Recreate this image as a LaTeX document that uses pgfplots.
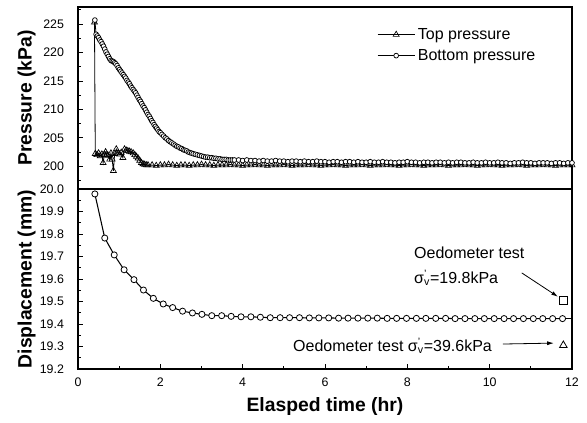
\documentclass[border=0pt]{standalone}
\usepackage{fontspec}
\setmainfont{Liberation Sans}
\usepackage{pgfplots}
\pgfplotsset{compat=1.18}
\usetikzlibrary{arrows.meta}

\pgfplotsset{
  panel/.style={
    scale only axis, width=370.5pt, xmin=0, xmax=12,
    axis line style={line width=0.9pt},
    tick align=inside, tick style={line width=0.6pt, black},
    major tick length=4pt, minor tick length=2.5pt,
    ytick pos=left,
    /pgf/number format/assume math mode=true,
    tick label style={font=\fontsize{9.3}{10}\selectfont},
    yticklabel shift=7pt,
    every axis y label/.style={at={(axis description cs:-0.1316,0.5)}, rotate=90, anchor=north,
      font=\bfseries\fontsize{14.5}{17}\selectfont},
  }
}

\begin{document}
\begin{tikzpicture}
\useasboundingbox (-58.5pt,5.25pt) rectangle (381.75pt,-312pt);

% upper panel: pressures
\begin{axis}[panel, name=upper, at={(0,0)}, anchor=north west,
  height=136.5pt, ymin=196, ymax=228,
  ytick={200,205,...,225}, minor ytick={197.5,202.5,...,227.5},
  xtick=\empty,
  ylabel={Pressure (kPa)},
  legend cell align=left,
  legend style={draw=none, fill=none, at={(0.605,0.9)}, anchor=north west,
    font=\fontsize{12}{14}\selectfont, row sep=2pt, inner sep=0pt},
  legend image code/.code={\draw[mark repeat=2,mark phase=2,#1] plot coordinates {(0pt,0pt)(14pt,0pt)(28pt,0pt)};},
]
\addplot[black, line width=0.6pt, mark=triangle, mark size=2.6pt, mark options={solid, fill=white, line width=0.5pt}] coordinates {
(0.40,225.3)(0.42,202.2)(0.46,202.0)(0.50,202.3)(0.54,201.8)(0.58,202.1)(0.61,200.6)(0.64,202.0)
(0.67,202.5)(0.70,202.0)(0.73,201.9)(0.77,201.2)(0.80,202.3)(0.83,201.2)(0.86,199.2)(0.89,202.2)
(0.93,203.0)(0.97,202.3)(1.01,202.1)(1.05,202.4)(1.09,201.5)(1.13,203.0)(1.17,202.8)(1.21,202.7)
(1.25,202.6)(1.29,202.5)(1.34,202.3)(1.38,202.0)(1.42,201.7)(1.46,201.4)(1.50,201.0)(1.54,200.6)
(1.58,200.4)(1.62,200.3)(1.66,200.2)
(1.7,200.2)(1.8,200.2)(1.9,200.1)(2.0,200.2)(2.1,200.2)(2.2,200.3)(2.3,200.2)(2.4,200.1)(2.5,200.2)
(2.6,200.2)(2.7,200.1)(2.8,200.2)(2.9,200.2)(3.0,200.3)(3.1,200.2)(3.2,200.2)(3.3,200.1)(3.4,200.2)
(3.5,200.2)(3.6,200.2)(3.7,200.3)(3.8,200.2)(3.9,200.2)(4.0,200.1)(4.1,200.2)(4.2,200.2)(4.3,200.3)
(4.4,200.2)(4.5,200.2)(4.6,200.1)(4.7,200.2)(4.8,200.2)(4.9,200.2)(5.0,200.3)(5.1,200.2)(5.2,200.1)
(5.3,200.2)(5.4,200.2)(5.5,200.2)(5.6,200.3)(5.7,200.2)(5.8,200.2)(5.9,200.1)(6.0,200.2)(6.1,200.2)
(6.2,200.3)(6.3,200.2)(6.4,200.2)(6.5,200.1)(6.6,200.2)(6.7,200.2)(6.8,200.2)(6.9,200.3)(7.0,200.2)
(7.1,200.1)(7.2,200.2)(7.3,200.2)(7.4,200.2)(7.5,200.3)(7.6,200.2)(7.7,200.2)(7.8,200.1)(7.9,200.2)
(8.0,200.2)(8.1,200.3)(8.2,200.2)(8.3,200.2)(8.4,200.1)(8.5,200.2)(8.6,200.2)(8.7,200.2)(8.8,200.3)
(8.9,200.2)(9.0,200.1)(9.1,200.2)(9.2,200.2)(9.3,200.2)(9.4,200.3)(9.5,200.2)(9.6,200.2)(9.7,200.1)
(9.8,200.2)(9.9,200.2)(10.0,200.3)(10.1,200.2)(10.2,200.2)(10.3,200.1)(10.4,200.2)(10.5,200.2)
(10.6,200.2)(10.7,200.3)(10.8,200.2)(10.9,200.1)(11.0,200.2)(11.1,200.2)(11.2,200.2)(11.3,200.3)
(11.4,200.2)(11.5,200.2)(11.6,200.1)(11.7,200.2)(11.8,200.2)(11.9,200.2)(12.0,200.2)
};
\addlegendentry{Top pressure}
\addplot[black, line width=0.6pt, mark=*, mark size=1.8pt, mark options={solid, fill=white, line width=0.55pt}] coordinates {
(0.41,225.7)(0.44,223.2)(0.47,222.9)(0.50,222.6)(0.53,222.2)(0.56,221.9)(0.59,221.5)(0.62,221.1)
(0.65,220.6)(0.68,220.1)(0.71,219.7)(0.74,219.3)(0.77,218.9)(0.80,218.6)(0.83,218.5)(0.86,218.4)
(0.89,218.2)(0.92,218.0)(0.95,217.7)(0.98,217.3)(1.01,217.0)(1.04,216.7)(1.07,216.4)(1.10,216.1)
(1.13,215.8)(1.16,215.5)(1.19,215.1)(1.22,214.8)(1.25,214.5)(1.28,214.1)(1.31,213.8)(1.34,213.5)
(1.37,213.2)(1.40,212.9)(1.43,212.5)(1.46,212.1)(1.49,211.7)(1.52,211.4)(1.55,211.0)(1.58,210.6)
(1.61,210.3)(1.64,209.9)(1.67,209.5)(1.70,209.1)(1.73,208.8)(1.76,208.4)(1.79,208.0)(1.82,207.7)
(1.85,207.3)(1.88,207.0)(1.91,206.7)(1.94,206.4)(1.97,206.1)(2.00,205.9)(2.04,205.6)(2.08,205.3)
(2.12,205.0)(2.16,204.8)(2.20,204.5)(2.24,204.3)(2.28,204.1)(2.32,203.9)(2.36,203.7)(2.40,203.5)
(2.44,203.4)(2.48,203.2)(2.52,203.1)(2.56,202.9)(2.60,202.8)(2.64,202.7)(2.68,202.5)(2.72,202.4)
(2.76,202.3)(2.80,202.2)(2.85,202.1)(2.90,202.0)(2.95,201.9)(3.00,201.8)(3.05,201.7)(3.10,201.6)
(3.15,201.6)(3.20,201.5)(3.25,201.5)(3.30,201.4)(3.35,201.4)(3.40,201.3)(3.45,201.3)(3.50,201.2)
(3.55,201.2)(3.60,201.2)(3.65,201.1)(3.70,201.1)(3.75,201.1)(3.80,201.1)
(3.9,201.1)(4.0,201.0)(4.1,201.1)(4.2,201.0)(4.3,201.0)(4.4,200.9)(4.5,201.0)(4.6,200.9)(4.7,200.9)
(4.8,201.0)(4.9,200.9)(5.0,200.9)(5.1,200.8)(5.2,200.9)(5.3,200.9)(5.4,200.8)(5.5,200.9)(5.6,200.8)
(5.7,200.8)(5.8,200.9)(5.9,200.8)(6.0,200.8)(6.1,200.7)(6.2,200.8)(6.3,200.8)(6.4,200.7)(6.5,200.8)
(6.6,200.8)(6.7,200.7)(6.8,200.8)(6.9,200.7)(7.0,200.7)(7.1,200.8)(7.2,200.7)(7.3,200.7)(7.4,200.8)
(7.5,200.7)(7.6,200.7)(7.7,200.6)(7.8,200.7)(7.9,200.7)(8.0,200.8)(8.1,200.7)(8.2,200.7)(8.3,200.6)
(8.4,200.7)(8.5,200.7)(8.6,200.6)(8.7,200.7)(8.8,200.7)(8.9,200.6)(9.0,200.7)(9.1,200.6)(9.2,200.7)
(9.3,200.7)(9.4,200.6)(9.5,200.6)(9.6,200.7)(9.7,200.6)(9.8,200.6)(9.9,200.7)(10.0,200.6)(10.1,200.6)
(10.2,200.7)(10.3,200.6)(10.4,200.6)(10.5,200.5)(10.6,200.6)(10.7,200.6)(10.8,200.7)(10.9,200.6)
(11.0,200.6)(11.1,200.5)(11.2,200.6)(11.3,200.6)(11.4,200.6)(11.5,200.5)(11.6,200.6)(11.7,200.6)
(11.8,200.5)(11.9,200.6)(12.0,200.6)
};
\addlegendentry{Bottom pressure}
\end{axis}

% lower panel: displacement
\begin{axis}[panel, at={(upper.south west)}, anchor=north west,
  height=135pt, ymin=19.2, ymax=20.0,
  ytick={19.2,19.3,19.4,19.5,19.6,19.7,19.8,19.9,20.0},
  minor ytick={19.25,19.35,19.45,19.55,19.65,19.75,19.85,19.95},
  yticklabel style={/pgf/number format/.cd, fixed, fixed zerofill, precision=1},
  xtick={0,2,...,12}, minor xtick={1,3,...,11}, xtick pos=bottom,
  xticklabel shift=3pt,
  ylabel={Displacement (mm)},
  xlabel={Elasped time (hr)},
  every axis x label/.style={at={(axis description cs:0.5,0)}, anchor=center, yshift=-28.5pt,
    font=\bfseries\fontsize{14.5}{17}\selectfont},
]
\addplot[black, line width=0.8pt, mark=*, mark size=2.3pt, mark options={solid, fill=white, line width=0.6pt}] coordinates {
(0.41,19.978)(0.65,19.782)(0.88,19.707)(1.12,19.641)(1.36,19.597)(1.59,19.551)(1.83,19.514)
(2.07,19.489)(2.30,19.473)(2.54,19.457)(2.78,19.449)(3.01,19.443)(3.25,19.437)(3.49,19.437)
(3.72,19.434)(3.96,19.432)(4.20,19.432)(4.43,19.430)(4.67,19.428)(4.91,19.428)(5.14,19.428)
(5.38,19.428)(5.62,19.427)(5.85,19.427)(6.09,19.427)(6.33,19.426)(6.56,19.426)(6.80,19.426)
(7.04,19.426)(7.27,19.426)(7.51,19.425)(7.74,19.425)(7.98,19.425)(8.22,19.425)(8.45,19.425)
(8.69,19.425)(8.93,19.425)(9.16,19.424)(9.40,19.424)(9.64,19.424)(9.87,19.424)(10.11,19.424)
(10.35,19.424)(10.58,19.424)(10.82,19.424)(11.06,19.424)(11.29,19.424)(11.53,19.424)(11.77,19.424)
};
\addplot[black, line width=0.8pt, no marks] coordinates {(11.77,19.424)(12.0,19.424)};
\addplot[only marks, black, mark=square, mark size=3pt, line width=0.6pt] coordinates {(11.79,19.504)};
\addplot[only marks, black, mark=triangle, mark size=3.3pt, line width=0.6pt] coordinates {(11.79,19.305)};
\draw[-{Latex[length=5pt,width=3pt]}, line width=0.6pt] (axis cs:10.78,19.627) -- (axis cs:11.66,19.521);
\draw[-{Latex[length=5pt,width=3pt]}, line width=0.6pt] (axis cs:10.32,19.311) -- (axis cs:11.56,19.315);
\node[anchor=base west, inner sep=0pt, font=\fontsize{12}{14}\selectfont] at (axis cs:8.16,19.689) {Oedometer test};
\node[anchor=base west, inner sep=0pt, font=\fontsize{12}{14}\selectfont] at (axis cs:8.16,19.582) {σ\rlap{\textsuperscript{'}}\textsubscript{v}=19.8kPa};
\node[anchor=base east, inner sep=0pt, font=\fontsize{12}{14}\selectfont] at (axis cs:10.06,19.279) {Oedometer test σ\rlap{\textsuperscript{'}}\textsubscript{v}=39.6kPa};
\end{axis}
\end{tikzpicture}
\end{document}
